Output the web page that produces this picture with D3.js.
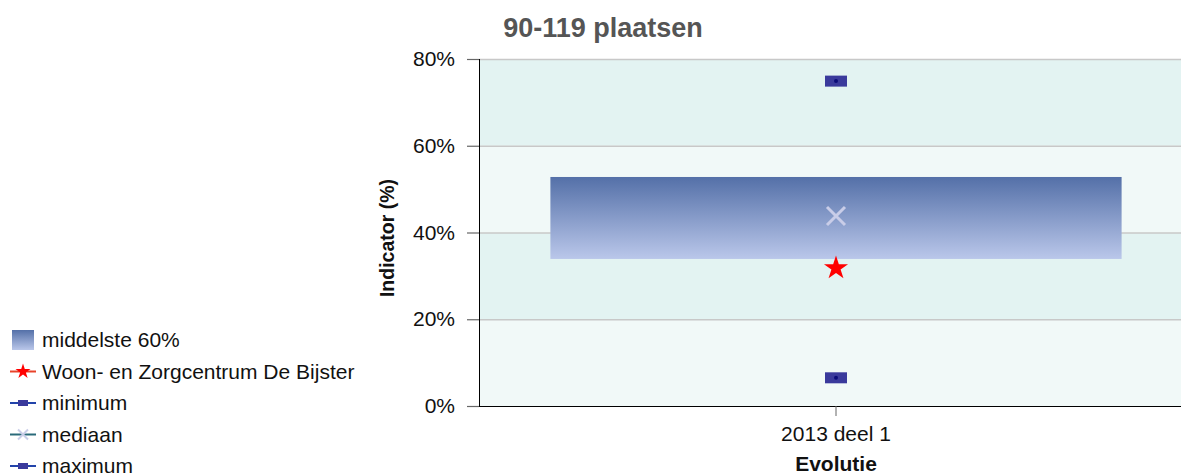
<!DOCTYPE html>
<html>
<head>
<meta charset="utf-8">
<script src="https://cdn.jsdelivr.net/npm/d3@7"></script>
<style>
  body { margin: 0; background: #fff; }
  text { font-family: "Liberation Sans", Arial, sans-serif; }
</style>
</head>
<body>
<script>
var categories = ["2013 deel 1"];
var p20 = [33.9];
var p80 = [52.8];
var mediaan = [43.8];
var bijster = [31.8];
var minimum = [6.5];
var maximum = [74.9];
var yTicks = [0, 20, 40, 60, 80];
var legendItems = ["middelste 60%", "Woon- en Zorgcentrum De Bijster", "minimum", "mediaan", "maximum"];

var width = 1181, height = 475;
var svg = d3.select("body").append("svg").attr("width", width).attr("height", height);

var x = d3.scaleBand().domain(categories).range([479, 1193]).paddingInner(0.2).paddingOuter(0.1);
var y = d3.scaleLinear().domain([0, 80]).range([406, 59]);

var defs = svg.append("defs");
var grad = defs.append("linearGradient").attr("id", "boxgrad").attr("x1", 0).attr("y1", 0).attr("x2", 0).attr("y2", 1);
grad.append("stop").attr("offset", "0%").attr("stop-color", "#5470a8");
grad.append("stop").attr("offset", "100%").attr("stop-color", "#bac7ea");

var clip = defs.append("clipPath").attr("id", "plotclip");
clip.append("rect").attr("x", 479).attr("y", 0).attr("width", 714).attr("height", height);

var plot = svg.append("g").attr("clip-path", "url(#plotclip)");

// alternating bands
for (var i = 0; i < yTicks.length - 1; i++) {
  plot.append("rect")
    .attr("x", 479).attr("width", 714)
    .attr("y", y(yTicks[i + 1])).attr("height", y(yTicks[i]) - y(yTicks[i + 1]))
    .attr("fill", i % 2 == 0 ? "#f1f9f8" : "#e3f3f2");
}
// grid
plot.selectAll(".grid").data(yTicks.slice(1)).enter().append("line")
  .attr("x1", 479).attr("x2", 1193)
  .attr("y1", function(d) { return y(d) + 0.5; }).attr("y2", function(d) { return y(d) + 0.5; })
  .attr("stroke", "#c8c8c8").attr("stroke-width", 1.5);

// box
plot.selectAll(".box").data(categories).enter().append("rect")
  .attr("x", function(d) { return x(d); })
  .attr("width", x.bandwidth())
  .attr("y", function(d, i) { return y(p80[i]); })
  .attr("height", function(d, i) { return y(p20[i]) - y(p80[i]); })
  .attr("fill", "url(#boxgrad)");

var cx = function(d) { return x(d) + x.bandwidth() / 2; };

// min / max markers
function drawMinMax(vals) {
  categories.forEach(function(c, i) {
    plot.append("rect").attr("x", cx(c) - 11).attr("y", y(vals[i]) - 5.5).attr("width", 22).attr("height", 11).attr("fill", "#3a3a9c");
    plot.append("circle").attr("cx", cx(c)).attr("cy", y(vals[i])).attr("r", 2).attr("fill", "#0b0b78");
  });
}
drawMinMax(minimum);
drawMinMax(maximum);

// median cross
categories.forEach(function(c, i) {
  var mx = cx(c), my = y(mediaan[i]), s = 9;
  plot.append("path").attr("d", "M" + (mx - s) + "," + (my - s) + "L" + (mx + s) + "," + (my + s) + "M" + (mx - s) + "," + (my + s) + "L" + (mx + s) + "," + (my - s))
    .attr("stroke", "#c9cde8").attr("stroke-width", 3);
});

// star
var star = d3.symbol().type(d3.symbolStar).size(180);
categories.forEach(function(c, i) {
  plot.append("path").attr("d", star()).attr("transform", "translate(" + cx(c) + "," + y(bijster[i]) + ")").attr("fill", "#ff0000");
});

// y axis
var yAxis = d3.axisLeft(y).tickValues(yTicks).tickSize(12).tickFormat(function(d) { return d + "%"; });
var ga = svg.append("g").attr("transform", "translate(479,0)").call(yAxis);
ga.select(".domain").attr("stroke", "#000").attr("d", "M0.5," + y(80) + "V" + (y(0) + 0.5));
ga.selectAll(".tick line").attr("stroke", "#666").attr("stroke-width", 1.2);
ga.selectAll(".tick text").attr("font-size", "21px").attr("fill", "#111").attr("x", -24).attr("font-family", "Liberation Sans, Arial, sans-serif");

// x axis
var xAxis = d3.axisBottom(x).tickSize(10).tickSizeOuter(0);
var gx = svg.append("g").attr("transform", "translate(0,406)").call(xAxis);
gx.select(".domain").attr("d", "M479,0.5H1193").attr("stroke", "#000");
gx.selectAll(".tick line").attr("stroke", "#666");
gx.selectAll(".tick text").attr("font-size", "21px").attr("fill", "#111").attr("y", 16).attr("dy", "0.9em").attr("font-family", "Liberation Sans, Arial, sans-serif");

// titles
svg.append("text").attr("x", 603).attr("y", 37).attr("text-anchor", "middle")
  .attr("font-size", "27px").attr("font-weight", "bold").attr("fill", "#555").text("90-119 plaatsen");
svg.append("text").attr("x", 836).attr("y", 471).attr("text-anchor", "middle")
  .attr("font-size", "21px").attr("font-weight", "bold").attr("fill", "#111").text("Evolutie");
svg.append("text").attr("transform", "translate(394,238) rotate(-90)").attr("text-anchor", "middle")
  .attr("font-size", "19.5px").attr("font-weight", "bold").attr("fill", "#111").text("Indicator (%)");

// legend
var lg = svg.append("g");
legendItems.forEach(function(t, i) {
  var ly = 340 + i * 31.5;
  var row = lg.append("g").attr("transform", "translate(0," + ly + ")");
  if (i == 0) {
    row.append("rect").attr("x", 12).attr("y", -10).attr("width", 22).attr("height", 20).attr("fill", "url(#boxgrad)");
  } else {
    var lc = i == 1 ? "#e8432a" : (i == 3 ? "#2a6a7a" : "#2244aa");
    row.append("line").attr("x1", 10).attr("x2", 36).attr("y1", 0).attr("y2", 0).attr("stroke", lc).attr("stroke-width", 2);
    if (i == 1) {
      row.append("path").attr("d", d3.symbol().type(d3.symbolStar).size(70)()).attr("transform", "translate(23,0)").attr("fill", "#ff0000");
    } else if (i == 3) {
      row.append("path").attr("d", "M18,-5L28,5M18,5L28,-5").attr("stroke", "#c9cde8").attr("stroke-width", 2);
    } else {
      row.append("rect").attr("x", 18).attr("y", -3).attr("width", 10).attr("height", 6).attr("fill", "#3a3a9c");
    }
  }
  row.append("text").attr("x", 42).attr("y", 7).attr("font-size", "21px").attr("fill", "#111").text(t);
});
</script>
</body>
</html>
